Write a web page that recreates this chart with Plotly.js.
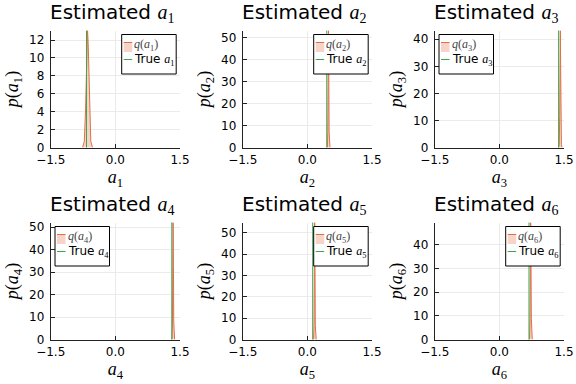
<!DOCTYPE html>
<html>
<head>
<meta charset="utf-8">
<script src="https://cdn.plot.ly/plotly-3.0.1.min.js"></script>
<style>html,body{margin:0;padding:0;background:#fff}#chart{width:576px;height:384px}</style>
</head>
<body>
<div id="chart"></div>
<script>
// ---- data ----
const paramIndex = [1, 2, 3, 4, 5, 6];
const trueValues = [-0.67, 0.45, 1.375, 1.31, 0.124, 0.688];

const qX1 = [-0.76, -0.72, -0.69, -0.675, -0.66, -0.645, -0.63, -0.615, -0.60, -0.57, -0.53];
const qY1 = [0, 0.7, 4.4, 8.1, 11.6, 13.06, 11.6, 8.1, 4.4, 0.7, 0];
const qX2 = [0.455, 0.465, 0.475, 0.4825, 0.49, 0.4975, 0.505, 0.515, 0.525];
const qY2 = [0, 0.2, 7.2, 32.3, 53.3, 32.3, 7.2, 0.2, 0];
const qX3 = [1.375, 1.39, 1.40, 1.406, 1.415, 1.424, 1.43, 1.44, 1.455];
const qY3 = [0, 1.1, 11.5, 26.7, 43.25, 26.7, 11.5, 1.1, 0];
const qX4 = [1.305, 1.315, 1.325, 1.3325, 1.34, 1.3475, 1.355, 1.365, 1.375];
const qY4 = [0, 0.3, 7.8, 32.4, 52.0, 32.4, 7.8, 0.3, 0];
const qX5 = [0.135, 0.145, 0.155, 0.1625, 0.17, 0.1775, 0.185, 0.195, 0.205];
const qY5 = [0, 0.2, 6.7, 32.2, 54.8, 32.2, 6.7, 0.2, 0];
const qX6 = [0.69, 0.702, 0.712, 0.719, 0.727, 0.735, 0.742, 0.752, 0.764];
const qY6 = [0, 0.4, 8.9, 30.3, 49.4, 30.3, 8.9, 0.4, 0];

const xTickVals = [-1.5, 0, 1.5];
const yTickStep = [2, 10, 10, 10, 10, 10];
const legendSide = ['right', 'right', 'left', 'left', 'right', 'right'];

const qXs = [qX1, qX2, qX3, qX4, qX5, qX6];
const qYs = [qY1, qY2, qY3, qY4, qY5, qY6];

// ---- layout geometry (pixels) ----
const W = 576, H = 384;
const PW = 129.3, PH = 117;
const colLeft = [50.7, 242.7, 434.7];
const rowTop = [30.5, 222.5];

const ORANGE = '#e26f46', GREEN = '#3da44d';
const FILL = 'rgba(226,111,70,0.3)';
const SERIF = 'Liberation Serif';
const SANS = 'DejaVu Sans';

const mathA = (k) => `<span style="font-family:${SERIF}"><i>a</i><sub>${k}</sub></span>`;

const traces = [];
const shapes = [];
const annotations = [];
const layout = {
  width: W, height: H,
  margin: {l: 0, r: 0, t: 0, b: 0},
  paper_bgcolor: '#fff', plot_bgcolor: '#fff',
  showlegend: false,
  font: {family: SANS, color: '#000'}
};

for (let i = 0; i < 6; i++) {
  const k = paramIndex[i];
  const sfx = i === 0 ? '' : String(i + 1);
  const xa = 'x' + sfx, ya = 'y' + sfx;
  const col = i % 3, row = Math.floor(i / 3);
  const left = colLeft[col], top = rowTop[row];
  const ymax = Math.max(...qYs[i]);

  layout['xaxis' + sfx] = {
    domain: [left / W, (left + PW) / W],
    anchor: ya,
    range: [-1.5, 1.5],
    tickvals: xTickVals, tickformat: '.1f',
    ticks: 'inside', ticklen: 4, tickcolor: '#222', tickwidth: 1,
    showline: true, linecolor: '#222', linewidth: 1,
    showgrid: true, gridcolor: '#ebebeb', gridwidth: 1,
    zeroline: false,
    tickfont: {family: SANS, size: 12, color: '#000'},
    ticklabelstandoff: 1,
    title: {text: `<i>a</i><sub>${k}</sub>`, font: {family: SERIF, size: 18, color: '#000'}, standoff: 1}
  };
  layout['yaxis' + sfx] = {
    domain: [1 - (top + PH) / H, 1 - top / H],
    anchor: xa,
    range: [0, ymax],
    dtick: yTickStep[i], tick0: 0,
    ticks: 'inside', ticklen: 4, tickcolor: '#222', tickwidth: 1,
    showline: true, linecolor: '#222', linewidth: 1,
    showgrid: true, gridcolor: '#ebebeb', gridwidth: 1,
    zeroline: false,
    tickfont: {family: SANS, size: 12, color: '#000'},
    ticklabelstandoff: 3,
    title: {text: `<i>p</i>(<i>a</i><sub>${k}</sub>)`, font: {family: SERIF, size: 18, color: '#000'}, standoff: 5}
  };

  traces.push({
    x: qXs[i], y: qYs[i], xaxis: xa, yaxis: ya,
    type: 'scatter', mode: 'lines',
    line: {color: ORANGE, width: 1},
    fill: 'tozeroy', fillcolor: FILL,
    name: `q(a${k})`, showlegend: false, hoverinfo: 'skip'
  });

  shapes.push({
    type: 'line', xref: xa, yref: ya + ' domain',
    x0: trueValues[i], x1: trueValues[i], y0: 0, y1: 1,
    line: {color: GREEN, width: 1}
  });

  // subplot title
  annotations.push({
    xref: xa + ' domain', yref: ya + ' domain',
    x: 0.5, y: 1 + 17.5 / PH,
    xanchor: 'center', yanchor: 'middle', xshift: -3,
    showarrow: false,
    text: `Estimated ${mathA(k)}`,
    font: {family: SANS, size: 20, color: '#000'}
  });

  // legend box (drawn by hand to match the compact reference legend)
  const bl = legendSide[i] === 'right' ? 71 : 4.3;
  const bt = 4, bw = 54.5, bh = 39.5;
  const dx = (p) => p / PW;
  const dy = (p) => 1 - p / PH;
  const xd = xa + ' domain', yd = ya + ' domain';
  shapes.push({type: 'rect', xref: xd, yref: yd, x0: dx(bl), x1: dx(bl + bw), y0: dy(bt), y1: dy(bt + bh),
    line: {color: '#000', width: 1}, fillcolor: '#fff', layer: 'above'});
  shapes.push({type: 'rect', xref: xd, yref: yd, x0: dx(bl + 2), x1: dx(bl + 10.5), y0: dy(bt + 8), y1: dy(bt + 17.5),
    line: {width: 0}, fillcolor: FILL, layer: 'above'});
  shapes.push({type: 'line', xref: xd, yref: yd, x0: dx(bl + 2), x1: dx(bl + 10.5), y0: dy(bt + 8), y1: dy(bt + 8),
    line: {color: ORANGE, width: 1}, layer: 'above'});
  shapes.push({type: 'line', xref: xd, yref: yd, x0: dx(bl + 2), x1: dx(bl + 10.5), y0: dy(bt + 25), y1: dy(bt + 25),
    line: {color: GREEN, width: 1}, layer: 'above'});
  annotations.push({
    xref: xd, yref: yd, x: dx(bl + 11.5), y: dy(bt + 10.5),
    xanchor: 'left', yanchor: 'middle', showarrow: false, borderpad: 0,
    text: `<i>q</i>(<i>a</i><sub>${k}</sub>)`,
    font: {family: SERIF, size: 12, color: '#444'}
  });
  annotations.push({
    xref: xd, yref: yd, x: dx(bl + 11.5), y: dy(bt + 25.5),
    xanchor: 'left', yanchor: 'middle', showarrow: false, borderpad: 0,
    text: `True ${mathA(k)}`,
    font: {family: SANS, size: 12, color: '#000'}
  });
}

layout.shapes = shapes;
layout.annotations = annotations;

Plotly.newPlot('chart', traces, layout, {staticPlot: true, displayModeBar: false});
</script>
</body>
</html>
